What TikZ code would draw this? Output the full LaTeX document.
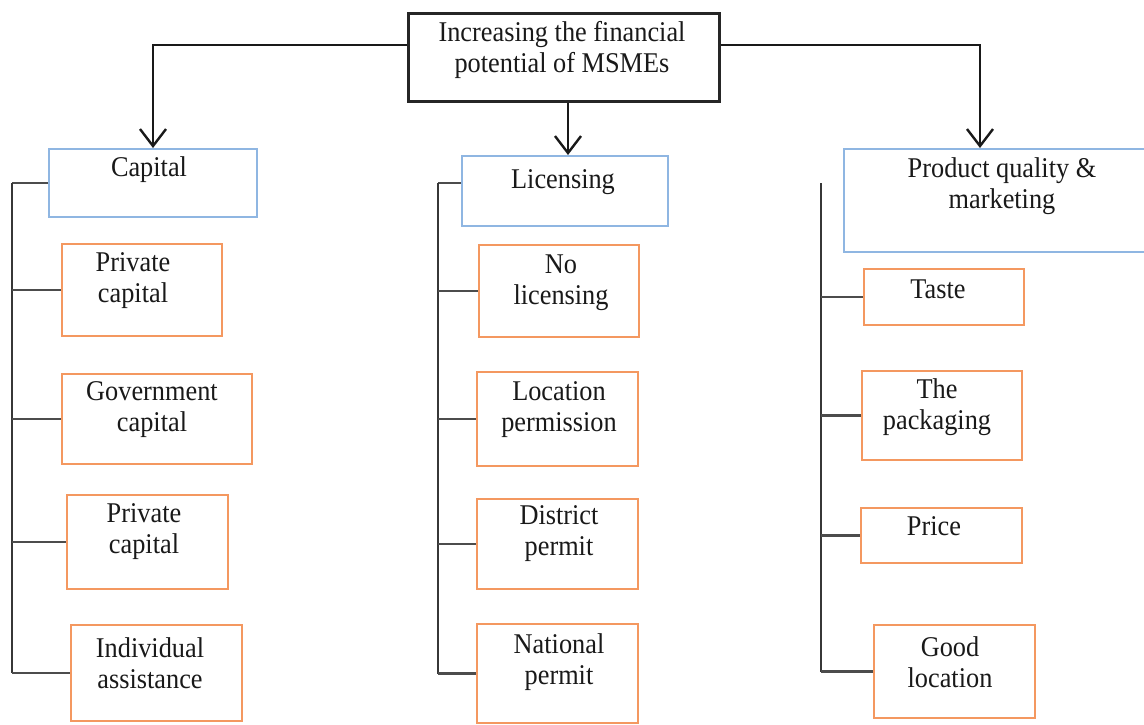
\documentclass[tikz,border=0pt]{standalone}
\usepackage{fontspec}
\setmainfont{Liberation Serif}[FakeStretch=0.92]
\usetikzlibrary{arrows.meta}
\definecolor{bluebd}{RGB}{143,182,226}
\definecolor{orgbd}{RGB}{244,152,96}
\definecolor{spinec}{RGB}{55,55,55}
\newcommand\mybox[6]{%
  \pgfmathsetmacro\bw{(#5-#3)*0.5}%
  \pgfmathsetmacro\bh{(#6-#4)*0.5}%
  \node[#1, minimum width=\bw pt, minimum height=\bh pt, anchor=north west, inner sep=0pt] (#2) at (#3,#4) {};}
\begin{document}
\begin{tikzpicture}[x=0.5pt,y=-0.5pt,
  topbox/.style={draw=black!85, line width=1.3pt},
  catbox/.style={draw=bluebd, line width=1pt},
  subbox/.style={draw=orgbd, line width=1pt},
  txt/.style={align=center, inner sep=0pt, font=\fontsize{14.3}{15.5}\selectfont, text=black!90},
  arr/.style={draw=black!90, line width=1.2pt, -{Straight Barb[length=8.5pt,width=13pt,line width=1.2pt]}},
  spine/.style={draw=spinec, line width=1.1pt},
  branch/.style={draw=black!70, line width=1.1pt}]
\useasboundingbox (0,0) rectangle (1144,724);
% boxes
\mybox{topbox}{top}{407}{12}{718}{100}
\mybox{catbox}{cap}{48}{148}{256}{216}
\mybox{catbox}{lic}{461}{155}{667}{225}
\mybox{catbox}{prod}{843}{148}{1147}{251}
\mybox{subbox}{c1}{61}{243}{221}{335}
\mybox{subbox}{c2}{61}{373}{251}{463}
\mybox{subbox}{c3}{66}{494}{227}{588}
\mybox{subbox}{c4}{70}{624}{241}{720}
\mybox{subbox}{l1}{478}{244}{638}{336}
\mybox{subbox}{l2}{476}{371}{637}{465}
\mybox{subbox}{l3}{476}{498}{637}{588}
\mybox{subbox}{l4}{476}{623}{637}{722}
\mybox{subbox}{p1}{863}{268}{1023}{324}
\mybox{subbox}{p2}{861}{370}{1021}{459}
\mybox{subbox}{p3}{860}{507}{1021}{562}
\mybox{subbox}{p4}{873}{624}{1034}{717}
% texts
\node[txt] (top-t) at (562,50) {Increasing the financial\\potential of MSMEs};
\node[txt] (cap-t) at (149,170) {Capital};
\node[txt] (lic-t) at (563,182) {Licensing};
\node[txt] (prod-t) at (1002,186) {Product quality \&\\marketing};
\node[txt] (c1-t) at (133,281) {Private\\capital};
\node[txt] (c2-t) at (152,410) {Government\\capital};
\node[txt] (c3-t) at (144,532) {Private\\capital};
\node[txt] (c4-t) at (150,663) {Individual\\assistance};
\node[txt] (l1-t) at (561,283) {No\\licensing};
\node[txt] (l2-t) at (559,410) {Location\\permission};
\node[txt] (l3-t) at (559,534) {District\\permit};
\node[txt] (l4-t) at (559,662) {National\\permit};
\node[txt] (p1-t) at (938,289) {Taste};
\node[txt] (p2-t) at (937,407) {The\\packaging};
\node[txt] (p3-t) at (934,526) {Price};
\node[txt] (p4-t) at (950,662) {Good\\location};
% arrows from top
\coordinate (la) at (top.west |- 0,45);
\coordinate (ra) at (top.east |- 0,45);
\coordinate (rtip) at (980,148);
\draw[arr] (la) -| (cap.north);
\draw[arr] (top.south -| 568,0) -- (lic.north -| 568,0);
\draw[arr] (ra) -| (rtip);
% left tree
\coordinate (ls) at (12,183);
\draw[branch] (cap.west |- ls) -- (ls);
\draw[spine] (ls) -- (ls |- c4.west);
\foreach \c in {c1,c2,c3,c4} \draw[branch] (ls |- \c.west) -- (\c.west);
% middle tree
\coordinate (ms) at (438,183);
\draw[branch] (lic.west |- ms) -- (ms);
\draw[spine] (ms) -- (ms |- l4.west);
\foreach \c in {l1,l2,l3,l4} \draw[branch] (ms |- \c.west) -- (\c.west);
% right tree
\coordinate (rs) at (821,183);
\draw[spine] (rs) -- (rs |- p4.west);
\foreach \c in {p1,p2,p3,p4} \draw[branch] (rs |- \c.west) -- (\c.west);
\end{tikzpicture}
\end{document}
